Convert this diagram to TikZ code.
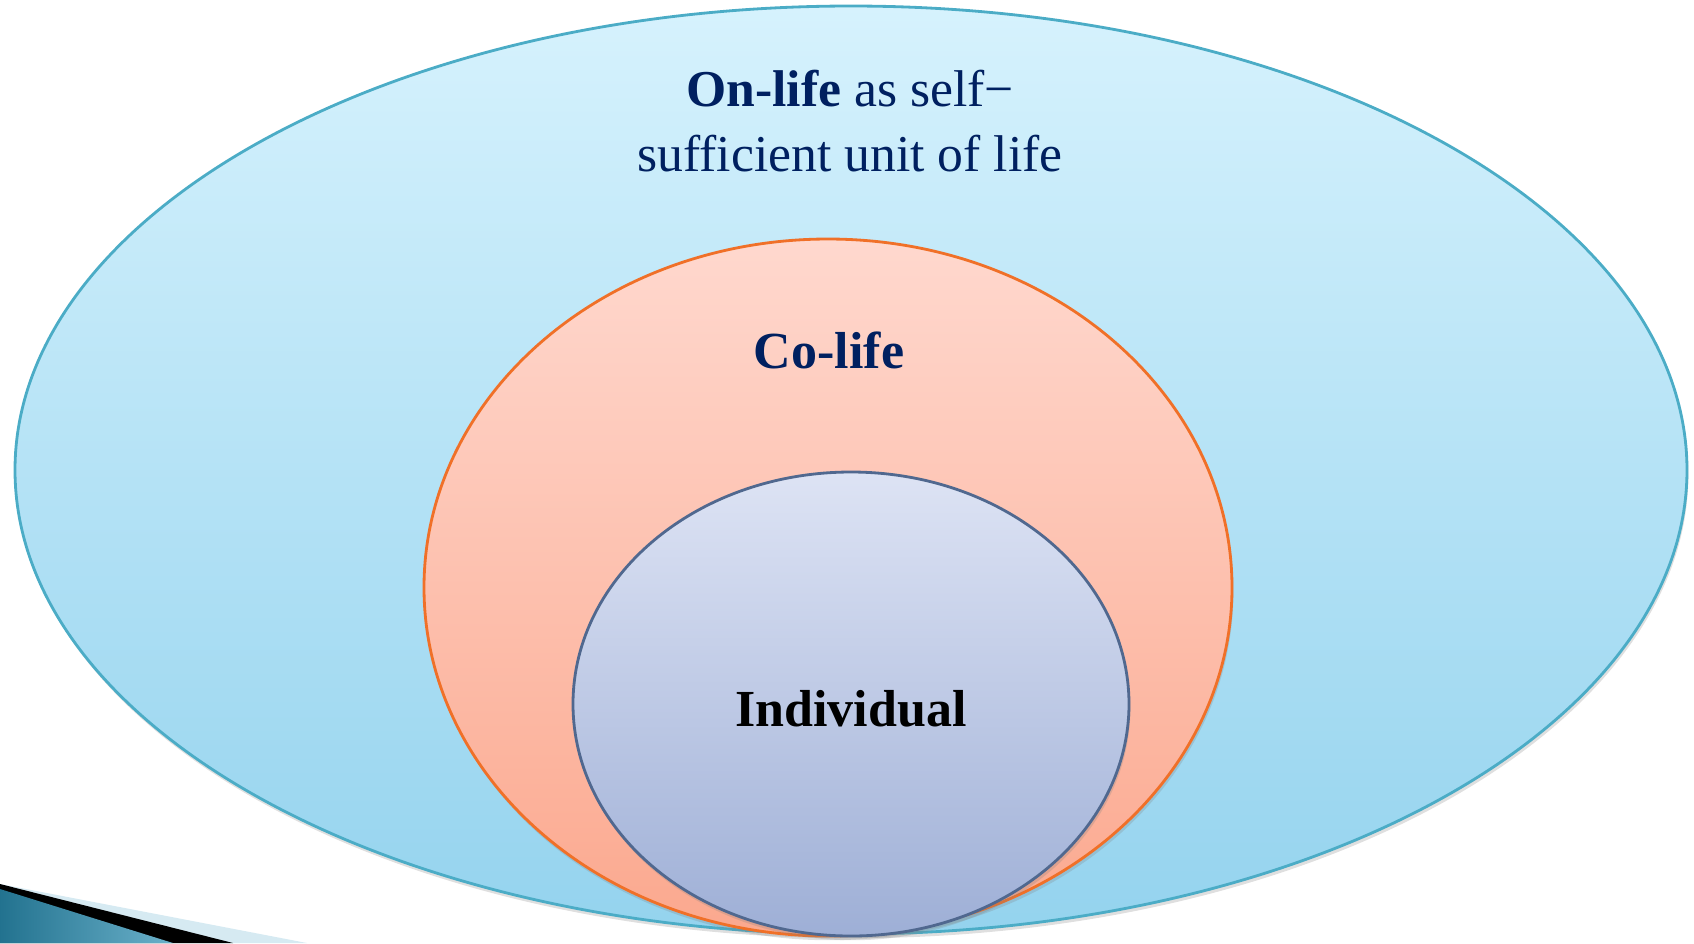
\documentclass[tikz,border=0pt]{standalone}
\usepackage{fontspec}
\setmainfont{Liberation Serif}
\usetikzlibrary{shapes.geometric,shadows}
\definecolor{navytext}{HTML}{002060}
\definecolor{onlifetop}{HTML}{D6F2FD}
\definecolor{onlifebot}{HTML}{94D3EE}
\definecolor{onlifeline}{HTML}{4BACC6}
\definecolor{colifetop}{HTML}{FFD8CE}
\definecolor{colifebot}{HTML}{FBA88E}
\definecolor{colifeline}{HTML}{F07028}
\definecolor{indivtop}{HTML}{DDE3F4}
\definecolor{indivbot}{HTML}{9EAFD6}
\definecolor{indivline}{HTML}{50688F}
\definecolor{cornerteal}{HTML}{2B8FB3}
\definecolor{cornerpale}{HTML}{D6EAF2}
\tikzset{
    ring/.style={ellipse, draw, line width=0.8pt, inner sep=0pt,
        drop shadow={shadow xshift=0.4pt, shadow yshift=-1.2pt, opacity=0.25}},
    ringtext/.style={inner sep=0pt, font=\bfseries\fontsize{14.8}{18}\selectfont}
}
\begin{document}
\begin{tikzpicture}
    \useasboundingbox (0,0) rectangle (16.94,-9.43);

    \begin{scope}[every node/.style={ring}]
        \node (onlife) at (8.51,-4.70) [minimum width=16.72cm, minimum height=9.28cm,
            draw=onlifeline, top color=onlifetop, bottom color=onlifebot] {};
        \node (colife) at (8.28,-5.875) [minimum width=8.08cm, minimum height=6.97cm,
            draw=colifeline, top color=colifetop, bottom color=colifebot] {};
        \node (indiv) at (8.51,-7.04) [minimum width=5.56cm, minimum height=4.64cm,
            draw=indivline, top color=indivtop, bottom color=indivbot] {};
    \end{scope}

    \node (onlifetext) at (8.50,-1.21) [inner sep=0pt, align=center, text=navytext,
        font=\fontsize{14.7}{18.5}\selectfont]
        {\textbf{On-life} as self−\\sufficient unit of life};
    \node (colifetext) at (8.29,-3.68) [ringtext, anchor=base, text=navytext] {Co-life};
    \node (indivtext) at (8.51,-7.26) [ringtext, anchor=base, text=black] {Individual};

    \fill[cornerpale] (0,-8.84) -- (3.07,-9.43) -- (0,-9.43) -- cycle;
    \fill[black] (0,-8.84) -- (2.33,-9.43) -- (0,-9.43) -- cycle;
    \shade[left color=cornerteal!80!black, right color=cornerteal!70!white]
        (0,-8.89) -- (1.73,-9.43) -- (0,-9.43) -- cycle;
\end{tikzpicture}
\end{document}
